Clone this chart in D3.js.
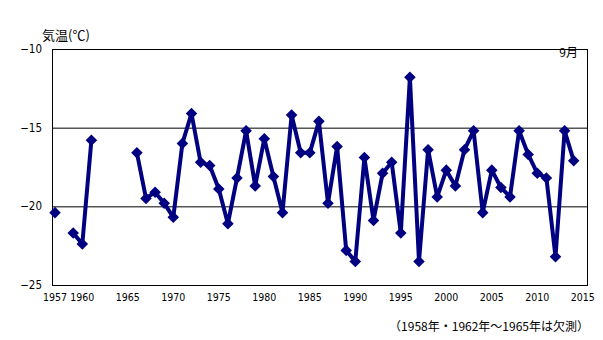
<!DOCTYPE html>
<html>
<head>
<meta charset="utf-8">
<script src="https://cdn.jsdelivr.net/npm/d3@7"></script>
<style>
  html, body { margin: 0; padding: 0; background: #fff; }
  svg { display: block; }
  text { fill: #000; }
</style>
</head>
<body>
<svg id="chart" width="603" height="340"></svg>
<script>
// September mean temperature by year (null = no observation)
const years = d3.range(1957, 2015);
const temps = [
  -20.4, null, -21.7, -22.4, -15.8, null, null, null, null, -16.6,
  -19.5, -19.1, -19.8, -20.7, -16.0, -14.1, -17.2, -17.4, -18.9, -21.1,
  -18.2, -15.2, -18.7, -15.7, -18.1, -20.4, -14.2, -16.6, -16.6, -14.6,
  -19.8, -16.2, -22.8, -23.5, -16.9, -20.9, -17.9, -17.2, -21.7, -11.8,
  -23.5, -16.4, -19.4, -17.7, -18.7, -16.4, -15.2, -20.4, -17.7, -18.8,
  -19.4, -15.2, -16.7, -17.9, -18.2, -23.2, -15.2, -17.1
];
const xTickYears = [1957, 1960, 1965, 1970, 1975, 1980, 1985, 1990, 1995, 2000, 2005, 2010, 2015];
const yTicks = [-25, -20, -15, -10];
const gridValues = [-20, -15];
const yTitle = "気温(℃)";
const monthLabel = "9月";
const footnote = "（1958年・1962年～1965年は欠測）";

const svg = d3.select("#chart");
const box = { left: 52, right: 587, top: 49, bottom: 285 };

const x = d3.scaleLinear().domain([1957, 2015]).range([55, 582.8]);
const y = d3.scaleLinear().domain([-25, -10]).range([box.bottom, box.top]);

const data = years.map((yr, i) => ({ year: yr, value: temps[i] }));

// grid lines
svg.append("g")
  .selectAll("line")
  .data(gridValues)
  .join("line")
  .attr("x1", box.left).attr("x2", box.right)
  .attr("y1", d => y(d) + 0.5).attr("y2", d => y(d) + 0.5)
  .attr("stroke", "#000").attr("stroke-width", 1);

// plot frame
svg.append("rect")
  .attr("x", box.left + 0.5).attr("y", box.top + 0.5)
  .attr("width", box.right - box.left).attr("height", box.bottom - box.top)
  .attr("fill", "none").attr("stroke", "#000").attr("stroke-width", 1);

// y axis labels
const fmt = d3.format("d");
svg.append("g")
  .selectAll("text")
  .data(yTicks)
  .join("text")
  .attr("x", 42).attr("y", d => y(d))
  .attr("dy", "0.36em")
  .attr("text-anchor", "end")
  .style("font-family", "'DejaVu Sans Condensed', 'DejaVu Sans', sans-serif")
  .style("font-size", "11.5px")
  .text(d => fmt(d));

// x axis labels
svg.append("g")
  .selectAll("text")
  .data(xTickYears)
  .join("text")
  .attr("x", d => x(d)).attr("y", 301)
  .attr("text-anchor", "middle")
  .style("font-family", "'DejaVu Sans Condensed', 'DejaVu Sans', sans-serif")
  .style("font-size", "10.5px")
  .text(d => d);

// series line
const line = d3.line()
  .defined(d => d.value !== null)
  .x(d => x(d.year))
  .y(d => y(d.value));

svg.append("path")
  .datum(data)
  .attr("d", line)
  .attr("fill", "none")
  .attr("stroke", "#000080")
  .attr("stroke-width", 4)
  .attr("stroke-linejoin", "round");

// diamond markers
const diamond = d3.symbol().type(d3.symbolDiamond2).size(85);
svg.append("g")
  .selectAll("path")
  .data(data.filter(d => d.value !== null))
  .join("path")
  .attr("transform", d => `translate(${x(d.year)},${y(d.value)})`)
  .attr("d", diamond)
  .attr("fill", "#000080");

// titles and notes
const jp = "'Noto Sans CJK JP', sans-serif";
svg.append("text")
  .attr("x", 42).attr("y", 40)
  .style("font-family", jp).style("font-size", "13px")
  .text(yTitle);

svg.append("text")
  .attr("x", 578).attr("y", 57)
  .attr("text-anchor", "end")
  .style("font-family", jp).style("font-size", "12px")
  .text(monthLabel);

svg.append("text")
  .attr("x", 589).attr("y", 331)
  .attr("text-anchor", "end")
  .style("font-family", jp).style("font-size", "12px")
  .text(footnote);
</script>
</body>
</html>
